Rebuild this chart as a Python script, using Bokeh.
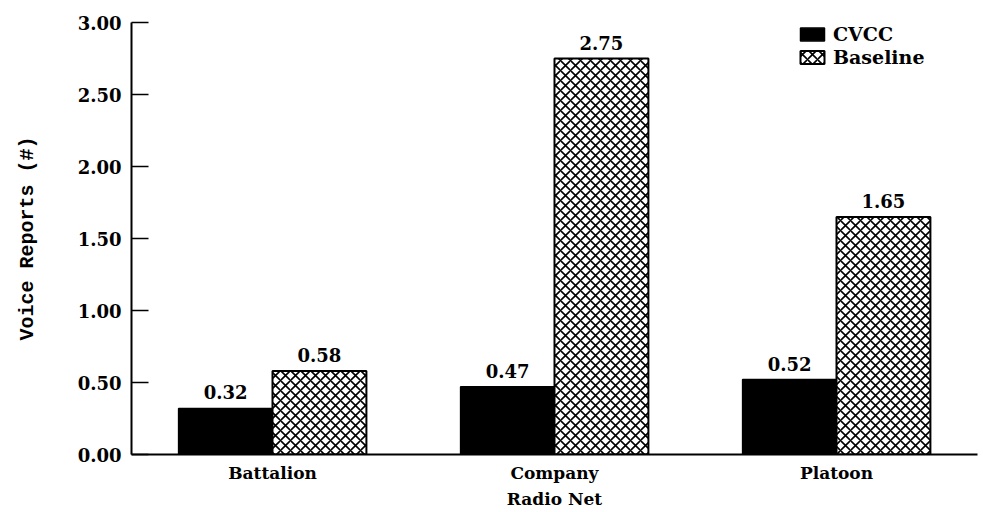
from bokeh.plotting import figure
from bokeh.models import (FactorRange, Range1d, FixedTicker, Legend, LegendItem,
                          ColumnDataSource)
from bokeh.transform import dodge
from bokeh.embed import file_html
from bokeh.resources import INLINE
from bokeh.core.properties import value

categories = ["Battalion", "Company", "Platoon"]
cvcc = [0.32, 0.47, 0.52]
baseline = [0.58, 2.75, 1.65]
series_names = ["CVCC", "Baseline"]
y_ticks = [0.0, 0.5, 1.0, 1.5, 2.0, 2.5, 3.0]
y_tick_labels = ["0.00", "0.50", "1.00", "1.50", "2.00", "2.50", "3.00"]
x_title = "Radio Net"
y_title = "Voice Reports (#)"

FONT = "DejaVu Serif"

src = ColumnDataSource(dict(
    cat=categories,
    cvcc=cvcc,
    baseline=baseline,
    cvcc_lbl=[f"{v:.2f}" for v in cvcc],
    base_lbl=[f"{v:.2f}" for v in baseline],
))

p = figure(width=980, height=511, output_backend="svg", toolbar_location=None,
           x_range=FactorRange(*categories), y_range=Range1d(0, 3),
           min_border_left=131, min_border_top=22, min_border_right=3,
           min_border_bottom=57)
p.outline_line_color = None
p.xgrid.grid_line_color = None
p.ygrid.grid_line_color = None
p.background_fill_color = "white"

bw = 0.333
r1 = p.vbar(x=dodge("cat", -bw / 2, range=p.x_range), top="cvcc", width=bw,
            source=src, fill_color="black", line_color="black", line_width=1.5)
r2 = p.vbar(x=dodge("cat", bw / 2, range=p.x_range), top="baseline", width=bw,
            source=src, fill_color="white", line_color="black", line_width=2,
            hatch_pattern="diagonal_cross", hatch_color="black",
            hatch_scale=10, hatch_weight=1.6)

for col, lbl, off in (("cvcc", "cvcc_lbl", -bw / 2), ("baseline", "base_lbl", bw / 2)):
    p.text(x=dodge("cat", off, range=p.x_range), y=col, text=lbl, source=src,
           text_align="center", text_baseline="bottom", y_offset=-9,
           text_font=value(FONT), text_font_style="bold", text_font_size="18px",
           text_color="black")

# y axis
ya = p.yaxis[0]
ya.ticker = FixedTicker(ticks=y_ticks)
ya.major_label_overrides = {t: l for t, l in zip(y_ticks, y_tick_labels)}
ya.major_tick_in = 17
ya.major_tick_out = 0
ya.minor_tick_line_color = None
ya.axis_line_width = 2
ya.major_tick_line_width = 1.5
ya.major_label_standoff = 10
ya.major_label_text_font = FONT
ya.major_label_text_font_style = "bold"
ya.major_label_text_font_size = "18px"
ya.major_label_text_color = "black"
ya.axis_label = y_title
ya.axis_label_text_font = "Liberation Mono"
ya.axis_label_text_font_style = "bold"
ya.axis_label_text_font_size = "20px"
ya.axis_label_text_color = "black"
ya.axis_label_standoff = 36

# x axis
xa = p.xaxis[0]
xa.major_tick_line_color = None
xa.minor_tick_line_color = None
xa.axis_line_width = 2
xa.major_label_standoff = 2
xa.major_label_text_font = FONT
xa.major_label_text_font_style = "bold"
xa.major_label_text_font_size = "17px"
xa.major_label_text_color = "black"
xa.axis_label = x_title
xa.axis_label_text_font = FONT
xa.axis_label_text_font_style = "bold"
xa.axis_label_text_font_size = "17px"
xa.axis_label_text_color = "black"
xa.axis_label_standoff = 3

legend = Legend(items=[LegendItem(label=series_names[0], renderers=[r1]),
                       LegendItem(label=series_names[1], renderers=[r2])],
                location=(666, 386), padding=0, margin=0, spacing=0,
                glyph_width=30, glyph_height=16, label_standoff=6,
                label_height=23,
                border_line_alpha=0, background_fill_alpha=0,
                label_text_font=FONT, label_text_font_style="bold",
                label_text_font_size="19px", label_text_color="black")
p.add_layout(legend)

open("out.html", "w").write(file_html(p, INLINE))
